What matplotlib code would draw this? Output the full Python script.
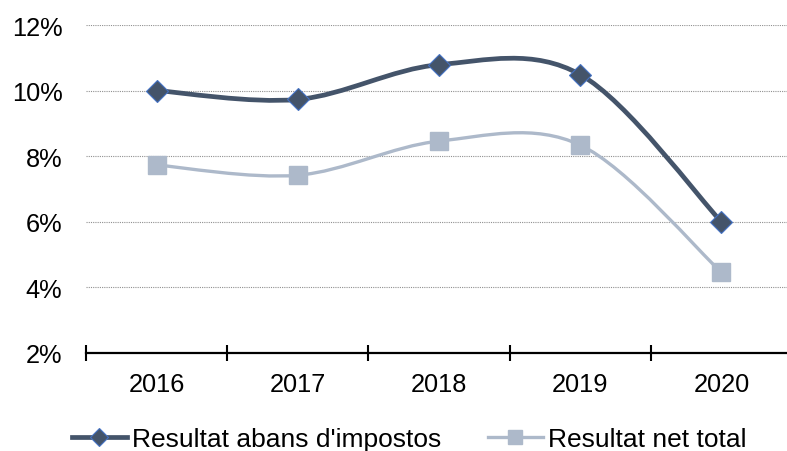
import matplotlib
matplotlib.use("Agg")
import matplotlib.pyplot as plt
from matplotlib.path import Path
from matplotlib.patches import PathPatch
from matplotlib.lines import Line2D
import numpy as np

plt.rcParams['font.family'] = ['Liberation Sans', 'DejaVu Sans']

years = ["2016", "2017", "2018", "2019", "2020"]
abans = [10.0, 9.73, 10.79, 10.49, 6.0]
net = [7.73, 7.42, 8.46, 8.34, 4.46]
yticks = [2, 4, 6, 8, 10, 12]

dark = "#44546A"
light = "#ADB9CA"
edge_blue = "#4472C4"
fs = 18.3

fig = plt.figure(figsize=(7.87, 4.52), dpi=100)
ax = fig.add_axes([86/787, 1-354/452, (792-86)/787, (354-26)/452])

def smooth_path(xs, ys):
    pts = np.column_stack([xs, ys]).astype(float)
    n = len(pts)
    verts = [pts[0]]
    codes = [Path.MOVETO]
    for i in range(n-1):
        p0 = pts[i-1] if i > 0 else pts[i]
        p1 = pts[i]
        p2 = pts[i+1]
        p3 = pts[i+2] if i+2 < n else pts[i+1]
        c1 = p1 + (p2 - p0) / 6.0
        c2 = p2 - (p3 - p1) / 6.0
        verts += [c1, c2, p2]
        codes += [Path.CURVE4]*3
    return Path(verts, codes)

x = np.arange(len(years))
for vals, col, lw in [(net, light, 2.4), (abans, dark, 3.4)]:
    ax.add_patch(PathPatch(smooth_path(x, vals), facecolor='none', edgecolor=col, lw=lw, zorder=3, capstyle='round'))

ax.plot(x, net, linestyle='none', marker='s', markersize=13.5, color=light, zorder=4)
ax.plot(x, abans, linestyle='none', marker='D', markersize=11.5, markerfacecolor=dark,
        markeredgecolor=edge_blue, markeredgewidth=0.8, zorder=5)

ax.set_xlim(-0.5, len(years)-0.5)
ax.set_ylim(2, 12)
ax.set_yticks(yticks)
ax.set_yticklabels([f"{v}%" for v in yticks])
ax.tick_params(axis='y', length=0, pad=17, labelsize=fs)
ax.yaxis.grid(True, linestyle=(0, (1, 1)), color='#909090', linewidth=0.8)
ax.set_axisbelow(True)

ax.set_xticks(np.arange(len(years)+1) - 0.5)
ax.set_xticklabels([])
ax.set_xticks(x, minor=True)
ax.set_xticklabels(years, minor=True)
ax.tick_params(axis='x', which='major', direction='inout', length=12, width=1.5, color='black')
ax.tick_params(axis='x', which='minor', length=0, pad=14, labelsize=fs)

for s in ['top', 'right', 'left']:
    ax.spines[s].set_visible(False)
ax.spines['bottom'].set_linewidth(1.6)
ax.spines['bottom'].set_color('black')

h1 = Line2D([], [], color=dark, lw=3.4, marker='D', markersize=9.5, markerfacecolor=dark,
            markeredgecolor=edge_blue, markeredgewidth=0.8)
h2 = Line2D([], [], color=light, lw=2.4, marker='s', markersize=9.5)
fig.legend([h1, h2], ["Resultat abans d'impostos", "Resultat net total"],
           loc='lower center', bbox_to_anchor=(0.52, -0.052), ncol=2, frameon=False,
           fontsize=19, handlelength=2.1, handletextpad=0.2, columnspacing=1.75)

fig.savefig("out.png", dpi=100)
